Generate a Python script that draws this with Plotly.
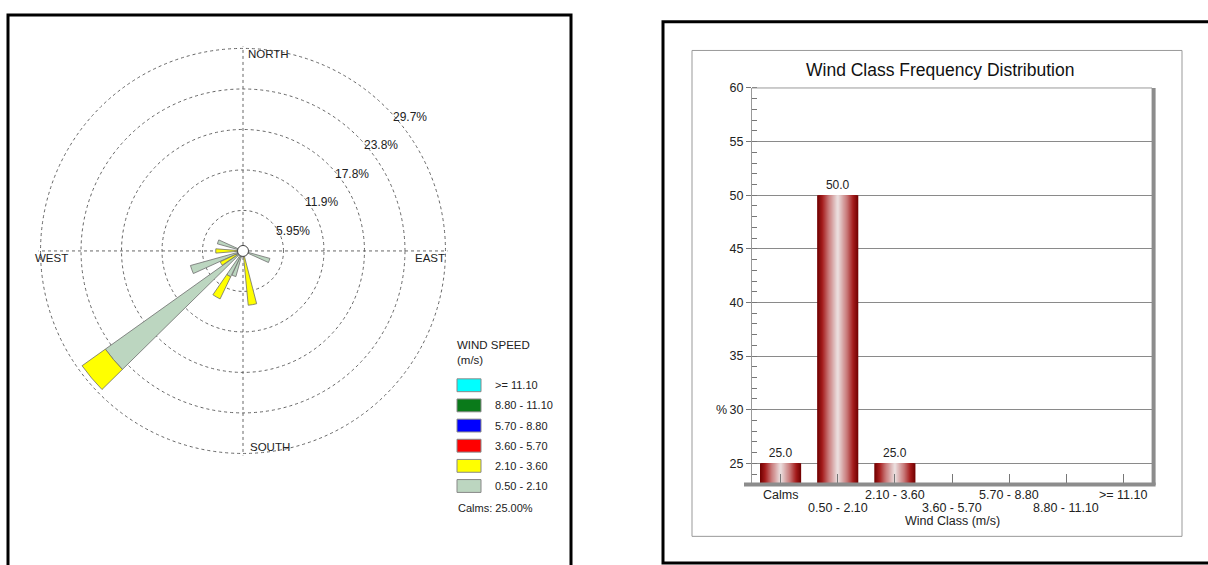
import plotly.graph_objects as go

# ---------------- data ----------------
# wind rose petals: direction (deg, blowing from) and frequency (%) per speed class
rose_dirs = [110, 170, 200, 210, 230, 240, 250, 270, 290]
rose_050_210 = [4.1, 0.7, 3.9, 4.2, 24.8, 1.1, 8.0, 0.6, 3.9]
rose_210_360 = [0.0, 7.3, 0.0, 3.6, 4.2, 2.6, 0.0, 3.4, 0.0]
ring_values = [5.94, 11.88, 17.82, 23.76, 29.7]
ring_labels = ["5.95%", "11.9%", "17.8%", "23.8%", "29.7%"]

speed_classes = [">= 11.10", "8.80 - 11.10", "5.70 - 8.80", "3.60 - 5.70", "2.10 - 3.60", "0.50 - 2.10"]
class_colors = ["#00ffff", "#0a7a1a", "#0000ff", "#ff0000", "#ffff00", "#bcd6c0"]
calms_pct = 25.0

# wind class frequency distribution
wind_classes = ["Calms", "0.50 - 2.10", "2.10 - 3.60", "3.60 - 5.70", "5.70 - 8.80", "8.80 - 11.10", ">= 11.10"]
class_freq = [25.0, 50.0, 25.0, 0.0, 0.0, 0.0, 0.0]

# ---------------- layout helpers ----------------
W, H = 1208, 565
FONT = "Liberation Sans, Arial, sans-serif"


def px(x):
    return x / W


def py(y):
    return 1 - y / H


def label(text, x, y, size=11, xanchor="center", color="#222", **kw):
    return dict(text=text, x=px(x), y=py(y), xref="paper", yref="paper",
                xanchor=xanchor, yanchor="middle", showarrow=False,
                font=dict(family=FONT, size=size, color=color), **kw)


fig = go.Figure()

# ---------------- wind rose ----------------
fig.add_trace(go.Barpolar(
    r=rose_050_210, theta=rose_dirs, width=[9] * len(rose_dirs),
    marker=dict(color=class_colors[5], line=dict(color="#6f6f6f", width=0.8)),
    subplot="polar", showlegend=False, hoverinfo="skip"))
fig.add_trace(go.Barpolar(
    r=rose_210_360, theta=rose_dirs, width=[9] * len(rose_dirs),
    marker=dict(color=class_colors[4], line=dict(color="#6f6f6f", width=0.8)),
    subplot="polar", showlegend=False, hoverinfo="skip"))
# calm circle at the centre
fig.add_trace(go.Scatterpolar(
    r=[0], theta=[0], mode="markers", subplot="polar",
    marker=dict(size=11, color="white", line=dict(color="#444", width=1)),
    showlegend=False, hoverinfo="skip"))

r_max = 30.0
cx, cy = 243, 247
rad = 205 * r_max / ring_values[-1]
fig.update_layout(polar=dict(
    domain=dict(x=[px(cx - rad), px(cx + rad)], y=[py(cy + rad), py(cy - rad)]),
    bgcolor="rgba(0,0,0,0)",
    barmode="stack",
    radialaxis=dict(range=[0, r_max], tickvals=ring_values, showticklabels=False,
                    ticks="", showline=False, gridcolor="#666", griddash="dot", gridwidth=1),
    angularaxis=dict(rotation=90, direction="clockwise", tickvals=[0, 90, 180, 270],
                     showticklabels=False, ticks="", showline=False,
                     gridcolor="#666", griddash="dot", gridwidth=1),
))

annotations = []
# compass labels
for txt, x, y in [("NORTH", 268, 48), ("EAST", 430, 254), ("WEST", 51, 254), ("SOUTH", 270, 446)]:
    annotations.append(label(txt, x, y, size=11.5))
# ring labels
for txt, x, y in zip(ring_labels, [293, 322, 352, 381, 410], [227, 197, 169, 140, 111]):
    annotations.append(label(txt, x, y, size=12))

# speed legend
annotations.append(dict(text="WIND SPEED<br>(m/s)", x=px(455), y=py(334), xref="paper", yref="paper",
                        xanchor="left", yanchor="top", align="left", showarrow=False,
                        font=dict(family=FONT, size=11.5, color="#222")))
shapes = []
for i, (lab, col) in enumerate(zip(speed_classes, class_colors)):
    yc = 383 + i * 20.4
    shapes.append(dict(type="rect", xref="paper", yref="paper",
                       x0=px(457), x1=px(481), y0=py(yc + 6.5), y1=py(yc - 6.5),
                       fillcolor=col, line=dict(color="#888", width=1)))
    annotations.append(label(lab, 493, yc, xanchor="left"))
annotations.append(label(f"Calms: {calms_pct:.2f}%", 456, 507, xanchor="left"))

# ---------------- frequency distribution bars ----------------
bar_w = 0.72
n_layers = 20
# cylinder shading: light centre -> red -> dark maroon edge
stops = [(0.0, (236, 226, 226)), (0.45, (200, 120, 120)), (0.75, (165, 28, 28)), (1.0, (110, 0, 0))]


def shade(t):
    for (t0, c0), (t1, c1) in zip(stops[:-1], stops[1:]):
        if t <= t1:
            f = (t - t0) / (t1 - t0)
            return "rgb({},{},{})".format(*[round(c0[i] + (c1[i] - c0[i]) * f) for i in range(3)])
    return "rgb({},{},{})".format(*stops[-1][1])


labels = [f"{v:.1f}" if v > 0 else "" for v in class_freq]
for k in range(n_layers):
    t = (n_layers - k) / n_layers
    fig.add_trace(go.Bar(
        x=wind_classes, y=class_freq, width=bar_w * t,
        marker=dict(color=shade(t - 0.5 / n_layers), line=dict(width=0)),
        text=labels if k == 0 else None, textposition="outside", cliponaxis=False,
        textfont=dict(family=FONT, size=12, color="#222"),
        xaxis="x", yaxis="y", showlegend=False, hoverinfo="skip"))

fig.update_layout(
    barmode="overlay",
    xaxis=dict(domain=[px(752), px(1152)], range=[-0.5, 6.5], type="category",
               tickvals=wind_classes, showticklabels=False,
               ticks="inside", ticklen=9, tickcolor="#777",
               showgrid=False, showline=False, zeroline=False),
    yaxis=dict(domain=[py(482), py(82)], range=[23.16, 60], tick0=25, dtick=5,
               ticks="outside", ticklen=5, tickcolor="#777",
               minor=dict(dtick=1, ticks="inside", ticklen=5, tickcolor="#777", showgrid=False),
               showgrid=True, gridcolor="#8a8a8a", gridwidth=1, zeroline=False,
               showline=True, linecolor="#999", linewidth=1,
               tickfont=dict(family=FONT, size=12.5, color="#222")),
)

# category labels, alternating between two rows
for i, c in enumerate(wind_classes):
    annotations.append(dict(text=c, x=c, xref="x", y=py(494 if i % 2 == 0 else 507), yref="paper",
                            xanchor="center", yanchor="middle", showarrow=False,
                            font=dict(family=FONT, size=12.5, color="#222")))

# plot-area frame with drop shadow on the right and bottom
shapes += [
    dict(type="line", xref="x domain", yref="y domain", x0=0, x1=1, y0=1, y1=1,
         line=dict(color="#999", width=1)),
    dict(type="line", xref="x domain", yref="y domain", x0=1.004, x1=1.004, y0=-0.005, y1=1,
         line=dict(color="#8c8c8c", width=4)),
    dict(type="line", xref="x domain", yref="y domain", x0=-0.02, x1=1.009, y0=-0.004, y1=-0.004,
         line=dict(color="#8c8c8c", width=4)),
]
annotations += [
    label("Wind Class Frequency Distribution", 940, 64, size=17.5, color="#111"),
    label("%", 721, 408, size=12.5),
    label("Wind Class (m/s)", 952, 520, size=12.5),
]

# panel borders
shapes += [
    dict(type="rect", xref="paper", yref="paper", x0=px(8), x1=px(571), y0=py(572), y1=py(8),
         line=dict(color="black", width=3)),
    dict(type="rect", xref="paper", yref="paper", x0=px(663), x1=px(1216), y0=py(563), y1=py(15),
         line=dict(color="black", width=3)),
    dict(type="rect", xref="paper", yref="paper", x0=px(692), x1=px(1182), y0=py(536), y1=py(44),
         line=dict(color="#999", width=1)),
]

fig.update_layout(
    width=W, height=H, margin=dict(l=0, r=0, t=0, b=0),
    paper_bgcolor="white", plot_bgcolor="white",
    font=dict(family=FONT, size=11, color="#222"),
    shapes=shapes, annotations=annotations,
)

fig.write_html("out.html")
